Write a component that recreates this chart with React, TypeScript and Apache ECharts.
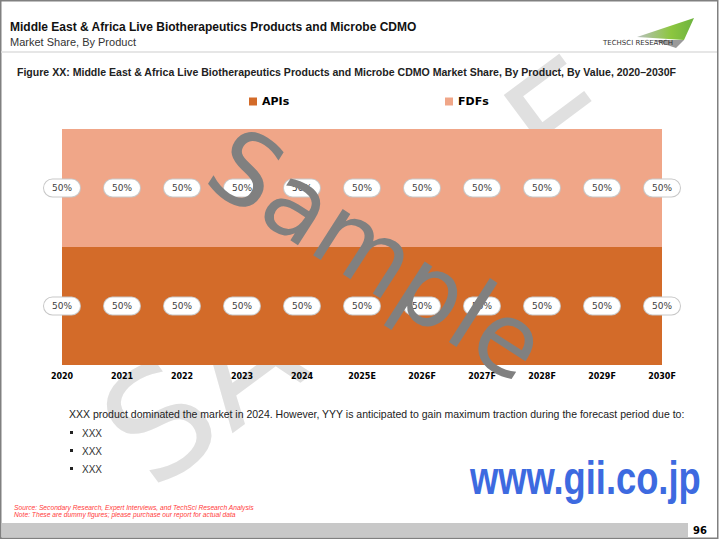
import React, { useEffect, useRef } from "react";
import * as echarts from "echarts";

const years = ["2020", "2021", "2022", "2023", "2024", "2025E", "2026F", "2027F", "2028F", "2029F", "2030F"];
const apisShare = [50, 50, 50, 50, 50, 50, 50, 50, 50, 50, 50];
const fdfsShare = [50, 50, 50, 50, 50, 50, 50, 50, 50, 50, 50];
const seriesNames = ["APIs", "FDFs"];

const titleText = "Middle East & Africa Live Biotherapeutics Products and Microbe CDMO";
const subtitleText = "Market Share, By Product";
const captionText =
  "Figure XX: Middle East & Africa Live Biotherapeutics Products and Microbe CDMO Market Share, By Product, By Value, 2020\u20132030F";
const bodyText =
  "XXX product dominated the market in 2024. However, YYY is anticipated to gain maximum traction during the forecast period due to:";
const bullets = ["XXX", "XXX", "XXX"];
const sourceText = "Source: Secondary Research, Expert Interviews, and TechSci Research Analysis";
const noteText = "Note: These are dummy figures; please purchase our report for actual data";
const pageNumber = "96";

const API_COLOR = "#D36B29";
const FDF_COLOR = "#F0A688";

export default function App() {
  const ref = useRef<HTMLDivElement>(null);

  useEffect(() => {
    if (!ref.current) return;
    const chart = echarts.init(ref.current, undefined, { renderer: "svg" });

    const apiMid = apisShare.map((v) => v / 2);
    const fdfMid = apisShare.map((v, i) => v + fdfsShare[i] / 2);

    const labelStyle = {
      show: true,
      position: "inside",
      fontFamily: "DejaVu Sans",
      fontSize: 9,
      color: "#404040",
      backgroundColor: "#ffffff",
      borderColor: "#c8c8c8",
      borderWidth: 1,
      borderRadius: 10,
      padding: [4, 8],
      opacity: 1,
    };

    const bulletEls: any[] = [];
    bullets.forEach((b, i) => {
      bulletEls.push({
        type: "rect",
        z: 5,
        shape: { x: 70, y: 431 + i * 18, width: 3, height: 3 },
        style: { fill: "#222" },
      });
      bulletEls.push({
        type: "text",
        z: 5,
        style: {
          text: b,
          x: 82,
          y: 433 + i * 18,
          fill: "#333",
          font: '10px "Liberation Sans"',
          verticalAlign: "middle",
        },
      });
    });

    const option: any = {
      animation: false,
      backgroundColor: "#ffffff",
      grid: { left: 62, right: 58, top: 129, bottom: 175, containLabel: false },
      legend: [
        {
          data: [seriesNames[0]],
          left: 249,
          top: 96,
          padding: 0,
          icon: "rect",
          itemWidth: 8,
          itemHeight: 8,
          selectedMode: false,
          textStyle: { fontFamily: "DejaVu Sans", fontWeight: "bold", fontSize: 11, color: "#000" },
        },
        {
          data: [seriesNames[1]],
          left: 445,
          top: 96,
          padding: 0,
          icon: "rect",
          itemWidth: 8,
          itemHeight: 8,
          selectedMode: false,
          textStyle: { fontFamily: "DejaVu Sans", fontWeight: "bold", fontSize: 11, color: "#000" },
        },
      ],
      xAxis: {
        type: "category",
        data: years,
        boundaryGap: false,
        axisLine: { show: false },
        axisTick: { show: false },
        splitLine: { show: false },
        axisLabel: {
          interval: 0,
          margin: 7,
          fontFamily: "DejaVu Sans",
          fontWeight: "bold",
          fontSize: 8,
          color: "#000",
        },
      },
      yAxis: { type: "value", min: 0, max: 100, show: false, splitLine: { show: false } },
      series: [
        {
          name: seriesNames[0],
          type: "line",
          stack: "share",
          data: apisShare,
          symbol: "none",
          lineStyle: { width: 0 },
          itemStyle: { color: API_COLOR },
          areaStyle: { color: API_COLOR, opacity: 1 },
        },
        {
          name: seriesNames[1],
          type: "line",
          stack: "share",
          data: fdfsShare,
          symbol: "none",
          lineStyle: { width: 0 },
          itemStyle: { color: FDF_COLOR },
          areaStyle: { color: FDF_COLOR, opacity: 1 },
        },
        {
          name: "apiLabels",
          type: "scatter",
          z: 4,
          data: apiMid,
          symbolSize: 1,
          itemStyle: { color: "rgba(0,0,0,0)", opacity: 1 },
          label: { ...labelStyle, formatter: (p: any) => apisShare[p.dataIndex] + "%" },
        },
        {
          name: "fdfLabels",
          type: "scatter",
          z: 4,
          data: fdfMid,
          symbolSize: 1,
          itemStyle: { color: "rgba(0,0,0,0)", opacity: 1 },
          label: { ...labelStyle, formatter: (p: any) => fdfsShare[p.dataIndex] + "%" },
        },
      ],
      graphic: {
        elements: [
          // light background watermark
          {
            type: "text",
            z: 0,
            x: 362,
            y: 272,
            rotation: 0.64,
            style: {
              text: "SAMPLE",
              x: 0,
              y: 0,
              align: "center",
              verticalAlign: "middle",
              fill: "#e0e0e0",
              font: '150px "DejaVu Sans"',
            },
          },
          // frame
          {
            type: "rect",
            z: 1,
            shape: { x: 0.75, y: 0.75, width: 717, height: 537.5 },
            style: { fill: "none", stroke: "#808080", lineWidth: 1.5 },
          },
          {
            type: "line",
            z: 1,
            shape: { x1: 1, y1: 52, x2: 717, y2: 52 },
            style: { stroke: "#dedede", lineWidth: 1.5 },
          },
          // header texts
          {
            type: "text",
            z: 5,
            style: {
              text: titleText,
              x: 10,
              y: 27,
              fill: "#111",
              font: 'bold 12px "Liberation Sans"',
              verticalAlign: "middle",
            },
          },
          {
            type: "text",
            z: 5,
            style: {
              text: subtitleText,
              x: 10,
              y: 42,
              fill: "#333",
              font: '11px "Liberation Sans"',
              verticalAlign: "middle",
            },
          },
          // logo
          {
            type: "polygon",
            z: 5,
            shape: { points: [[637, 37], [694, 18], [684, 40]] },
            style: {
              fill: new echarts.graphic.LinearGradient(0, 0, 1, 0, [
                { offset: 0, color: "#b8c0bc" },
                { offset: 0.6, color: "#8cc63f" },
                { offset: 1, color: "#6db33f" },
              ]),
            },
          },
          {
            type: "polygon",
            z: 5,
            shape: { points: [[652, 40], [684, 40], [676, 48]] },
            style: { fill: "#9a9a9a" },
          },
          {
            type: "text",
            z: 5,
            style: {
              text: "TECHSCI RESEARCH",
              x: 603,
              y: 43,
              fill: "#333",
              font: '7px "DejaVu Sans"',
              verticalAlign: "middle",
            },
          },
          // caption
          {
            type: "text",
            z: 5,
            style: {
              text: captionText,
              x: 17,
              y: 72,
              fill: "#222",
              font: 'bold 10.55px "Liberation Sans"',
              verticalAlign: "middle",
            },
          },
          // body
          {
            type: "text",
            z: 5,
            style: {
              text: bodyText,
              x: 69,
              y: 414,
              fill: "#222",
              font: '10.5px "Liberation Sans"',
              verticalAlign: "middle",
            },
          },
          ...bulletEls,
          {
            type: "text",
            z: 5,
            style: {
              text: sourceText,
              x: 14,
              y: 507,
              fill: "#ff3b3b",
              font: 'italic 6.7px "Liberation Sans"',
              verticalAlign: "middle",
            },
          },
          {
            type: "text",
            z: 5,
            style: {
              text: noteText,
              x: 14,
              y: 514.5,
              fill: "#ff3b3b",
              font: 'italic 6.7px "Liberation Sans"',
              verticalAlign: "middle",
            },
          },
          // footer bar
          {
            type: "rect",
            z: 5,
            shape: { x: 1.5, y: 523, width: 686.5, height: 14 },
            style: { fill: "#c8c8c8" },
          },
          {
            type: "text",
            z: 5,
            style: {
              text: pageNumber,
              x: 700,
              y: 530,
              fill: "#000",
              font: 'bold 10px "DejaVu Sans"',
              align: "center",
              verticalAlign: "middle",
            },
          },
          // site url
          {
            type: "text",
            z: 40,
            x: 470,
            y: 478,
            scaleX: 0.79,
            style: {
              text: "www.gii.co.jp",
              x: 0,
              y: 0,
              fill: "#3d6ae0",
              font: 'bold 46px "Liberation Sans"',
              verticalAlign: "middle",
            },
          },
          // Sample overlay
          {
            type: "text",
            z: 50,
            x: 377,
            y: 255,
            rotation: -0.57,
            style: {
              text: "Sample",
              x: 0,
              y: 0,
              align: "center",
              verticalAlign: "middle",
              fill: "#808080",
              font: '100px "DejaVu Sans"',
            },
          },
        ],
      },
    };

    chart.setOption(option);
    return () => chart.dispose();
  }, []);

  return (
    <div
      ref={ref}
      style={{ position: "fixed", left: 0, top: 0, width: 720, height: 540, background: "#fff" }}
    />
  );
}
